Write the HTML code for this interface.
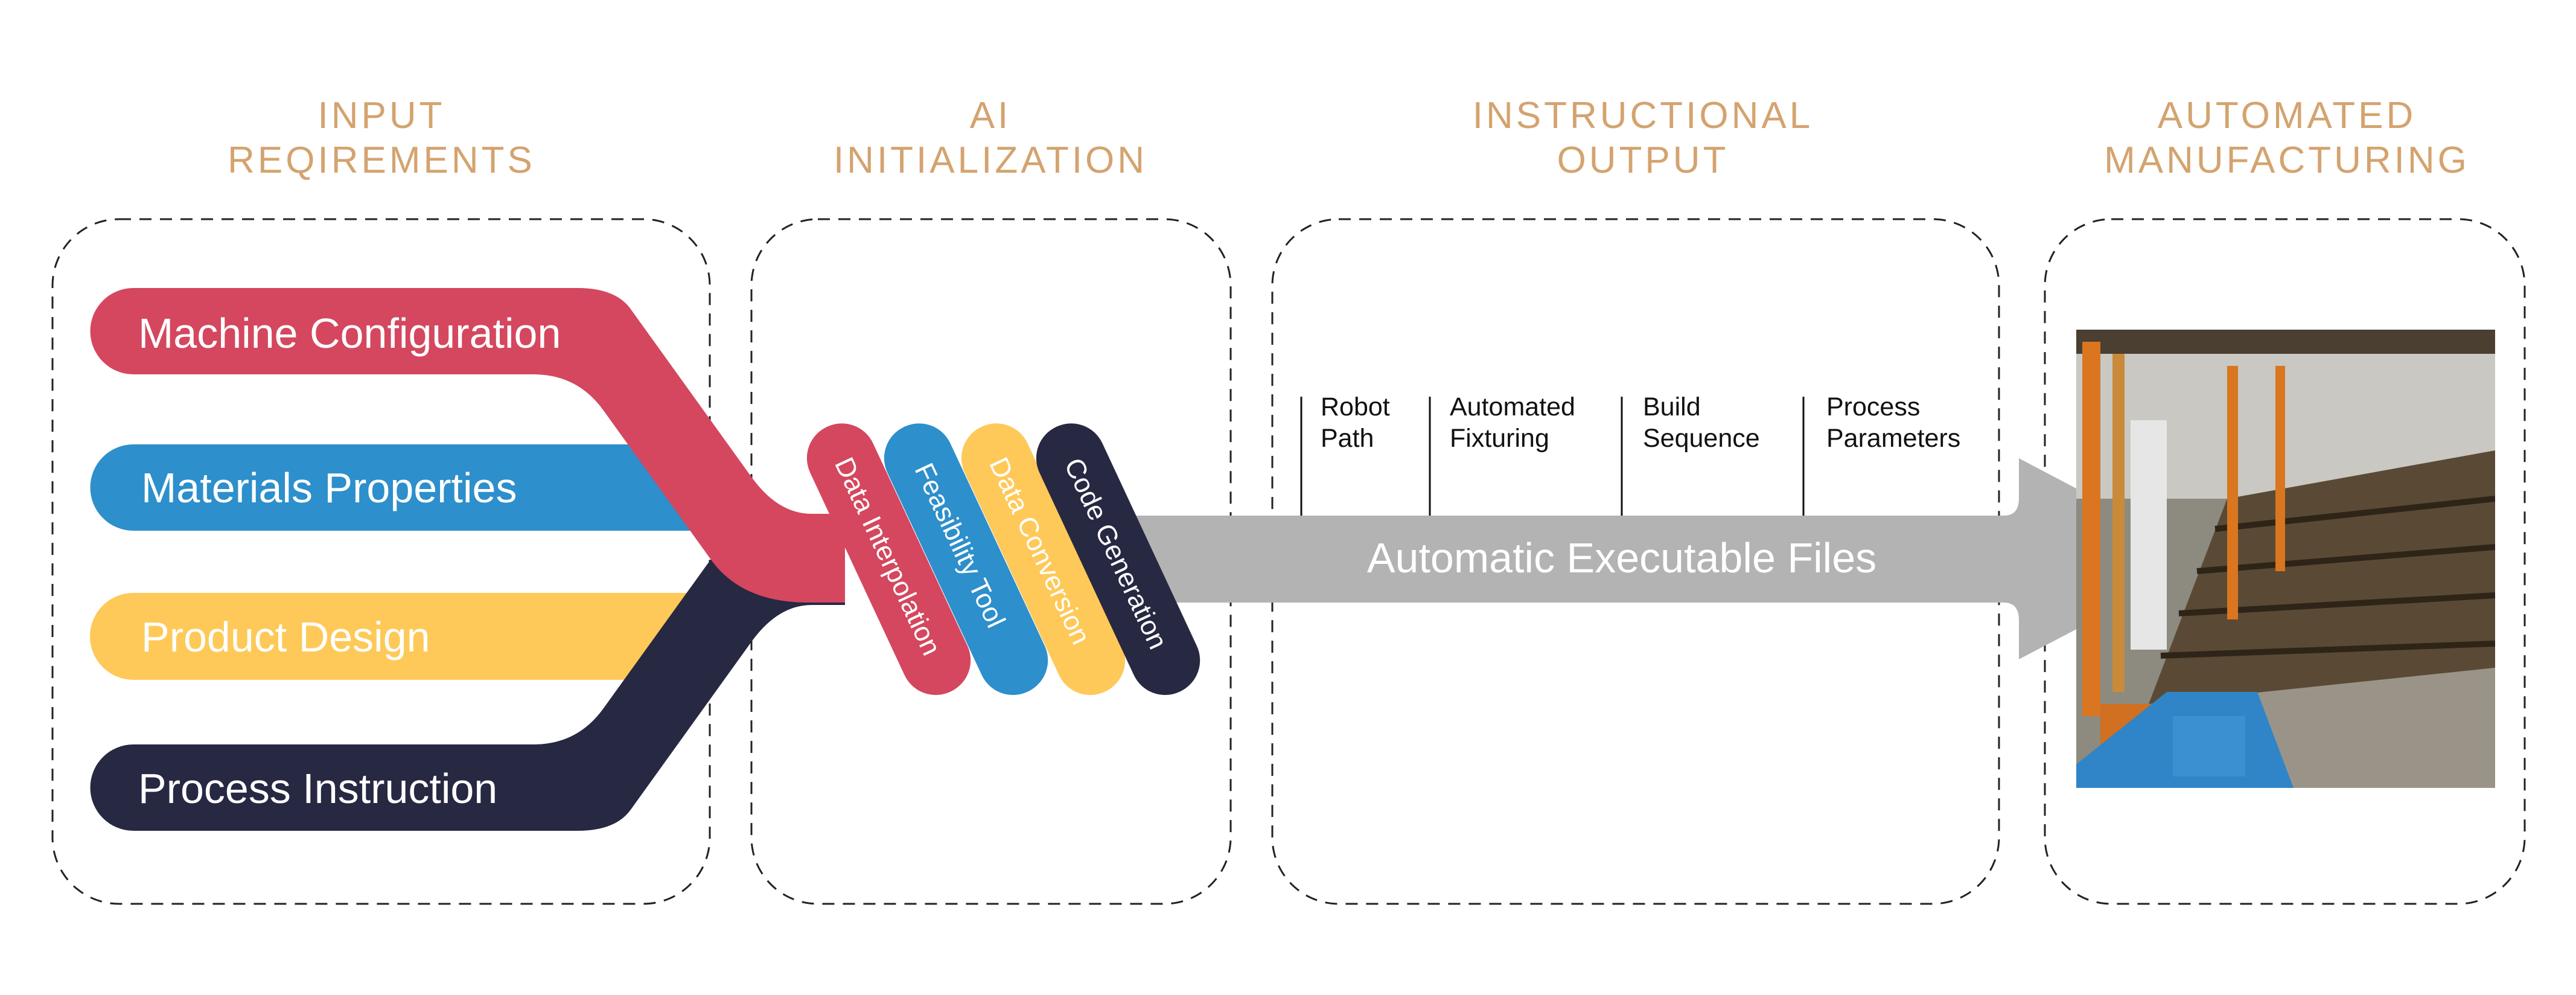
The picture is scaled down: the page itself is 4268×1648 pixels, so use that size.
<!DOCTYPE html>
<html><head><meta charset="utf-8"><style>
html,body{margin:0;padding:0;background:#fff;}
svg{display:block;}
text{font-family:"Liberation Sans",sans-serif;}
</style></head><body>
<svg width="4268" height="1648" viewBox="0 0 4268 1648" xmlns="http://www.w3.org/2000/svg">
<g fill="#d4a36f" font-size="62" text-anchor="middle" letter-spacing="5">
<text x="632" y="212">INPUT</text><text x="632" y="286">REQIREMENTS</text>
<text x="1641" y="212">AI</text><text x="1641" y="286">INITIALIZATION</text>
<text x="2722" y="212">INSTRUCTIONAL</text><text x="2722" y="286">OUTPUT</text>
<text x="3789" y="212">AUTOMATED</text><text x="3789" y="286">MANUFACTURING</text>
</g>
<g fill="none" stroke="#222" stroke-width="3" stroke-dasharray="20 14">
<rect x="87" y="363" width="1089" height="1134" rx="110"/>
<rect x="1245" y="363" width="794" height="1134" rx="110"/>
<rect x="2108" y="363" width="1204" height="1134" rx="110"/>
<rect x="3388" y="363" width="795" height="1134" rx="110"/>
</g>
<path d="M221,736 L1200,736 L1200,879 L221,879 A71.5,71.5 0 0 1 221,736Z" fill="#2d8fcb"/>
<path d="M221,982 L1200,982 L1200,1126 L221,1126 A72,72 0 0 1 221,982Z" fill="#fec958"/>
<path d="M221,1376 L957,1376 Q1020,1376 1045,1341 L1245,1063 Q1289,1002 1345,1002 L1400,1002 L1400,855 L1339,855 Q1229,855 1178,926 L1000,1173 Q957,1233 884,1233 L221,1233 A71.5,71.5 0 0 0 221,1376Z" fill="#272842"/>
<path d="M221,477 L957,477 Q1020,477 1045,512 L1245,790 Q1289,851 1345,851 L1400,851 L1400,998 L1339,998 Q1229,998 1178,927 L1000,680 Q957,620 884,620 L221,620 A71.5,71.5 0 0 1 221,477Z" fill="#d4475f"/>
<g fill="#fff" font-size="70">
<text x="229" y="576">Machine Configuration</text>
<text x="234" y="832">Materials Properties</text>
<text x="234" y="1079">Product Design</text>
<text x="229" y="1330">Process Instruction</text>
</g>
<path d="M1850,854 L3320,854 Q3345,854 3345,825 L3345,759 L3662,926 L3345,1092 L3345,1027 Q3345,998 3320,998 L1850,998Z" fill="#b3b3b3"/>
<text x="2687" y="948" fill="#fff" font-size="70" text-anchor="middle">Automatic Executable Files</text>
<g font-size="45" fill="#fff" text-anchor="middle">
<g transform="translate(1473,926) rotate(65)"><rect x="-242" y="-57" width="484" height="115" rx="57" fill="#d4475f"/><text x="-5" y="15">Data Interpolation</text></g>
<g transform="translate(1601,926) rotate(65)"><rect x="-242" y="-57" width="484" height="115" rx="57" fill="#2d8fcb"/><text x="-25" y="15">Feasibility Tool</text></g>
<g transform="translate(1729,926) rotate(65)"><rect x="-242" y="-57" width="484" height="115" rx="57" fill="#fec958"/><text x="-15" y="15">Data Conversion</text></g>
<g transform="translate(1853,926) rotate(65)"><rect x="-242" y="-57" width="484" height="115" rx="57" fill="#272842"/><text x="-10" y="15">Code Generation</text></g>
</g>
<g stroke="#111" stroke-width="3">
<line x1="2156" y1="657" x2="2156" y2="854"/><line x1="2369" y1="657" x2="2369" y2="854"/>
<line x1="2687" y1="657" x2="2687" y2="854"/><line x1="2988" y1="657" x2="2988" y2="854"/>
</g>
<g fill="#111" font-size="43">
<text x="2188" y="688">Robot</text><text x="2188" y="740">Path</text>
<text x="2402" y="688">Automated</text><text x="2402" y="740">Fixturing</text>
<text x="2722" y="688">Build</text><text x="2722" y="740">Sequence</text>
<text x="3026" y="688">Process</text><text x="3026" y="740">Parameters</text>
</g>
<svg x="3440" y="546" width="694" height="759" viewBox="0 0 694 759">
<rect width="694" height="759" fill="#8d8a80"/>
<rect width="694" height="280" fill="#c9c8c2"/>
<rect x="0" y="0" width="694" height="40" fill="#4a3f30"/>
<polygon points="250,280 694,200 694,560 120,620" fill="#5a4a35"/>
<g stroke="#2e2518" stroke-width="10">
<line x1="230" y1="330" x2="694" y2="280"/><line x1="200" y1="400" x2="694" y2="360"/>
<line x1="170" y1="470" x2="694" y2="440"/><line x1="140" y1="540" x2="694" y2="520"/>
</g>
<polygon points="120,620 694,560 694,759 200,759" fill="#9a9488"/>
<rect x="10" y="20" width="30" height="620" fill="#d9761f"/>
<rect x="60" y="40" width="20" height="560" fill="#c98a3a"/>
<rect x="250" y="60" width="18" height="420" fill="#d9761f"/>
<rect x="330" y="60" width="16" height="340" fill="#d9761f"/>
<rect x="40" y="620" width="120" height="120" fill="#d07020"/>
<rect x="90" y="150" width="60" height="380" fill="#e6e6e6"/>
<polygon points="150,600 300,600 360,759 0,759 0,720" fill="#2f85c8"/>
<rect x="160" y="640" width="120" height="100" fill="#3a90d0"/>
</svg>
</svg>
</body></html>
